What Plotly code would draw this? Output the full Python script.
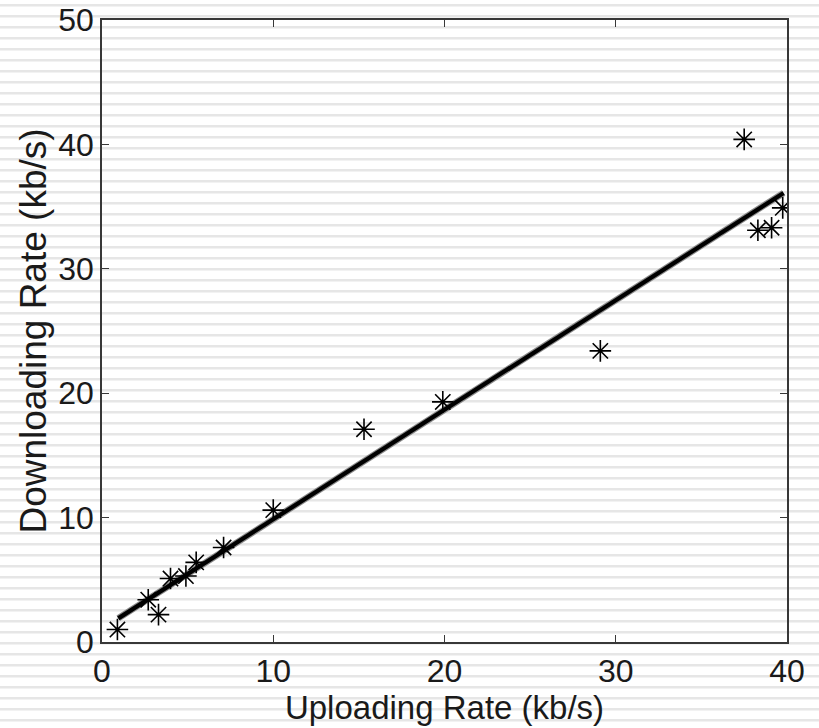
import plotly.graph_objects as go

# Data
upload = [0.9, 2.7, 3.3, 4.0, 4.9, 5.5, 7.1, 10.0, 15.3, 19.9, 29.1, 37.5, 38.3, 39.1, 39.75]
download = [1.0, 3.4, 2.2, 5.1, 5.3, 6.4, 7.6, 10.6, 17.1, 19.3, 23.4, 40.4, 33.1, 33.3, 34.9]

fit_x = [0.95, 39.8]
fit_y = [1.9, 36.1]

x_ticks = [0, 10, 20, 30, 40]
y_ticks = [0, 10, 20, 30, 40, 50]

W, H = 819, 728
L, R, T, B = 102, 32, 20, 86
pw, ph = W - L - R, H - T - B

fig = go.Figure()

fig.add_trace(go.Scatter(x=fit_x, y=fit_y, mode="lines",
                         line=dict(color="#8a8a8a", width=6.5), showlegend=False,
                         hoverinfo="skip"))
fig.add_trace(go.Scatter(x=fit_x, y=fit_y, mode="lines",
                         line=dict(color="black", width=4.2), showlegend=False,
                         hoverinfo="skip"))
fig.add_trace(go.Scatter(x=upload, y=download, mode="markers",
                         marker=dict(symbol="asterisk-open", size=18, color="black",
                                     line=dict(color="black", width=1.6)),
                         showlegend=False))

# background stripes
shapes = []
py = 5.3
while py < H + 5:
    yp = (H - B - py) / ph
    shapes.append(dict(type="line", xref="paper", yref="paper",
                       x0=-L / pw - 0.01, x1=1 + (R + 5) / pw, y0=yp, y1=yp,
                       line=dict(color="#e6e6e6", width=2.6), layer="below"))
    py += 11.0

font_fam = "Liberation Sans, Arial, sans-serif"
axis_common = dict(showgrid=False, zeroline=False, showline=True, linecolor="#383838",
                   linewidth=1.6, mirror="ticks", ticks="inside", ticklen=7,
                   tickwidth=1.3, tickcolor="#383838", automargin=False,
                   tickfont=dict(family=font_fam, size=32, color="#1a1a1a"))

fig.update_layout(
    width=W, height=H,
    margin=dict(l=L, r=R, t=T, b=B),
    paper_bgcolor="white", plot_bgcolor="rgba(0,0,0,0)",
    shapes=shapes,
    xaxis=dict(range=[0, 40], tickvals=x_ticks, **axis_common,
               title=dict(text="Uploading Rate (kb/s)", standoff=4,
                          font=dict(family=font_fam, size=33, color="#1a1a1a"))),
    yaxis=dict(range=[0, 50], tickvals=y_ticks, **axis_common,
               title=dict(text="Downloading Rate (kb/s)", standoff=0,
                          font=dict(family=font_fam, size=37, color="#1a1a1a"))),
)

fig.write_html("out.html")
